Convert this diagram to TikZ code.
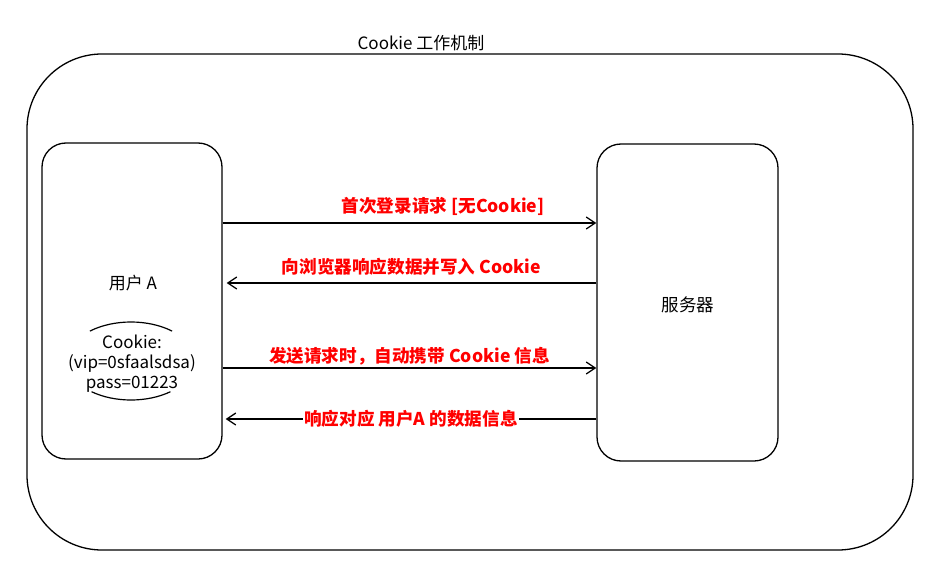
\documentclass[tikz,border=0pt]{standalone}
\usepackage{fontspec}
\setmainfont{Noto Sans CJK SC}
\usetikzlibrary{arrows.meta,shapes.geometric,calc}
\begin{document}
\begin{tikzpicture}[x=1pt,y=-1pt,
  box/.style={draw,line width=1.3pt,rounded corners=24pt,inner sep=0pt},
  arr/.style={line width=1.3pt,-{Straight Barb[length=9pt,width=12pt,line width=1.3pt]}},
  lbl/.style={text=red,inner sep=0pt,font=\bfseries\fontsize{17.6}{20}\selectfont},
  txt/.style={font=\fontsize{17}{20}\selectfont},
]
\useasboundingbox (0,0) rectangle (949,585);
\fill[white] (0,0) rectangle (949,585);
% outer frame
\node[draw,line width=1.3pt,rounded corners=75pt,minimum width=886pt,minimum height=496pt,inner sep=0pt] (frame) at (470,302) {};
\node[txt] (title) at (421,43) {Cookie 工作机制};
% boxes
\node[box,minimum width=180pt,minimum height=316pt] (user) at (132,301) {};
\node[box,minimum width=181pt,minimum height=317pt] (server) at (687.5,302.5) {};
\node[txt] (uname) at (133,283) {用户 A};
\node[txt,font=\fontsize{17.5}{20}\selectfont] (sname) at (688,305) {服务器};
% cookie ellipse
\node[txt,align=center,inner sep=0pt,font=\fontsize{17}{20}\selectfont] (cookie) at (132,364) {Cookie:\\(vip=0sfaalsdsa)\\pass=01223};
\coordinate (ec) at (131,361);
\draw[line width=1.2pt] (ec) ++(130:64pt and 39pt) arc[start angle=130,end angle=50,x radius=64pt,y radius=39pt];
\draw[line width=1.2pt] (ec) ++(232:64pt and 39pt) arc[start angle=232,end angle=308,x radius=64pt,y radius=39pt];
% arrows
\draw[arr] ([yshift=78pt]user.east) -- ([yshift=78pt]user.east -| server.west)
  node[lbl,pos=0.59,above=7pt] (l1) {首次登录请求 [无Cookie]};
\draw[arr] ([yshift=19.5pt]server.west) -- ([yshift=19.5pt,xshift=4pt]server.west -| user.east)
  node[lbl,midway,above=7pt] (l2) {向浏览器响应数据并写入 Cookie};
\draw[arr] ([yshift=-67pt]user.east) -- ([yshift=-67pt]user.east -| server.west)
  node[lbl,midway,above=2pt] (l3) {发送请求时，自动携带 Cookie 信息};
\draw[arr] ([yshift=-116.5pt]server.west) -- ([yshift=-116.5pt,xshift=3pt]server.west -| user.east)
  node[lbl,midway,fill=white,inner sep=1pt] (l4) {响应对应 用户A 的数据信息};
\end{tikzpicture}
\end{document}
